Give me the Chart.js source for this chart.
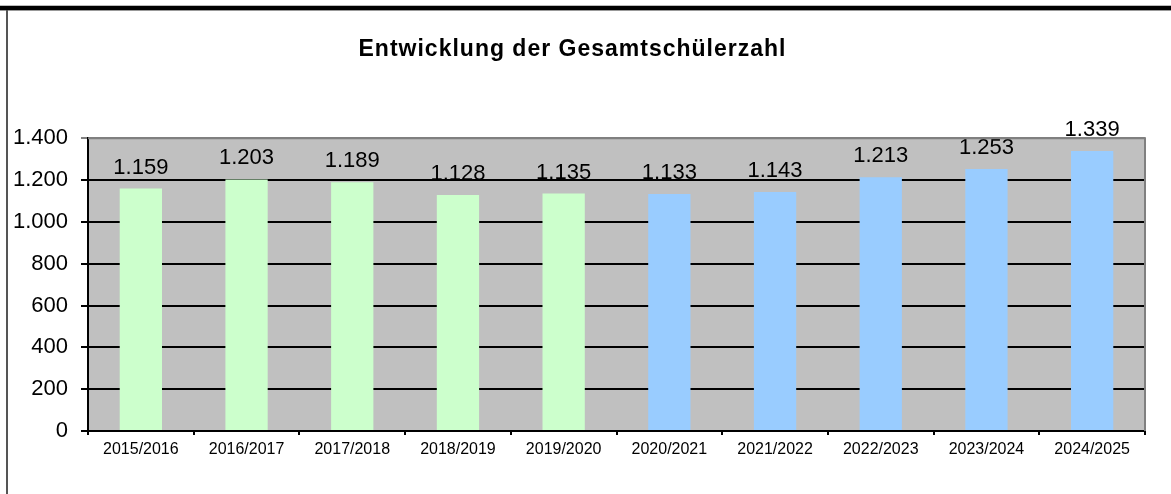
<!DOCTYPE html>
<html>
<head>
<meta charset="utf-8">
<script src="https://cdn.jsdelivr.net/npm/chart.js@4.4.1/dist/chart.umd.min.js"></script>
<style>
  html, body { margin: 0; padding: 0; background: #fff; }
  #wrap { position: relative; width: 1171px; height: 494px; overflow: hidden; }
  #topline { position: absolute; left: 0; top: 6px; width: 1171px; height: 4px; background: #000; box-shadow: 0 -1px 0 #bbb, 0 1px 0 #999; }
  #leftline { position: absolute; left: 6px; top: 10px; width: 2px; height: 484px; background: #555; }
  canvas { position: absolute; left: 0; top: 0; }
</style>
</head>
<body>
<div id="wrap">
  <div id="topline"></div>
  <div id="leftline"></div>
  <canvas id="c" width="1171" height="494"></canvas>
</div>
<script>
const chartTitle = 'Entwicklung der Gesamtschülerzahl';
const categories = ['2015/2016','2016/2017','2017/2018','2018/2019','2019/2020','2020/2021','2021/2022','2022/2023','2023/2024','2024/2025'];
const pupils = [1159, 1203, 1189, 1128, 1135, 1133, 1143, 1213, 1253, 1339];
const yTickValues = [0, 200, 400, 600, 800, 1000, 1200, 1400];
const firstBlueIndex = 5;

const fmt = v => String(v).replace(/\B(?=(\d{3})+(?!\d))/g, '.');
const FONT = '"Liberation Sans", Arial, sans-serif';

const spacing = {
  id: 'spacing',
  beforeDraw(chart) { chart.ctx.letterSpacing = '1px'; },
  beforeDatasetsDraw(chart) { chart.ctx.letterSpacing = '0px'; }
};

const plotBg = {
  id: 'plotBg',
  beforeDraw(chart) {
    const {ctx, chartArea: a} = chart;
    ctx.save();
    ctx.fillStyle = '#C0C0C0';
    ctx.fillRect(a.left, a.top, a.right - a.left, a.bottom - a.top);
    ctx.restore();
  },
  afterDraw(chart) {
    const {ctx, chartArea: a} = chart;
    ctx.save();
    ctx.strokeStyle = '#808080';
    ctx.lineWidth = 2;
    ctx.beginPath();
    ctx.moveTo(a.left, a.top);
    ctx.lineTo(a.right, a.top);
    ctx.lineTo(a.right, a.bottom);
    ctx.stroke();
    ctx.restore();
  }
};

const valueLabels = {
  id: 'valueLabels',
  afterDatasetsDraw(chart) {
    const {ctx} = chart;
    const meta = chart.getDatasetMeta(0);
    ctx.save();
    ctx.letterSpacing = '0px';
    ctx.font = '22px ' + FONT;
    ctx.fillStyle = '#000';
    ctx.textAlign = 'center';
    ctx.textBaseline = 'middle';
    meta.data.forEach((bar, i) => {
      ctx.fillText(fmt(chart.data.datasets[0].data[i]), bar.x, bar.y - 21);
    });
    ctx.restore();
  }
};

new Chart(document.getElementById('c'), {
  type: 'bar',
  data: {
    labels: categories,
    datasets: [{
      data: pupils,
      backgroundColor: ctx => ctx.dataIndex < firstBlueIndex ? '#CCFFCC' : '#99CCFF',
      borderWidth: 0,
      barPercentage: 0.4,
      categoryPercentage: 1.0
    }]
  },
  options: {
    responsive: false,
    animation: false,
    layout: { padding: { left: 0, right: 26, top: 0, bottom: 0 } },
    plugins: {
      legend: { display: false },
      tooltip: { enabled: false },
      title: {
        display: true,
        text: chartTitle,
        color: '#000',
        font: { family: FONT, size: 23, weight: 'bold', lineHeight: 1.2 },
        padding: { top: 35.5, bottom: 75.1 }
      }
    },
    scales: {
      x: {
        grid: { display: true, drawOnChartArea: false, drawTicks: true, tickLength: 4, color: '#000', lineWidth: 2, offset: true },
        border: { display: true, color: '#000', width: 2 },
        ticks: { z: 1, color: '#000', font: { family: FONT, size: 16 }, padding: 5, maxRotation: 0, autoSkip: false },
        afterFit: s => { s.height = 63; }
      },
      y: {
        min: 0,
        max: 1400,
        afterBuildTicks: s => { s.ticks = yTickValues.map(v => ({value: v})); },
        grid: {
          color: c => (c.tick && c.tick.value === 1400) ? '#808080' : '#000',
          lineWidth: 2,
          tickLength: 7,
          drawTicks: true
        },
        border: { display: true, color: '#000', width: 2 },
        ticks: { z: 1, color: '#000', font: { family: FONT, size: 22 }, padding: 13, callback: v => fmt(v) },
        afterFit: s => { s.width = 88; }
      }
    }
  },
  plugins: [spacing, plotBg, valueLabels]
});
</script>
</body>
</html>
